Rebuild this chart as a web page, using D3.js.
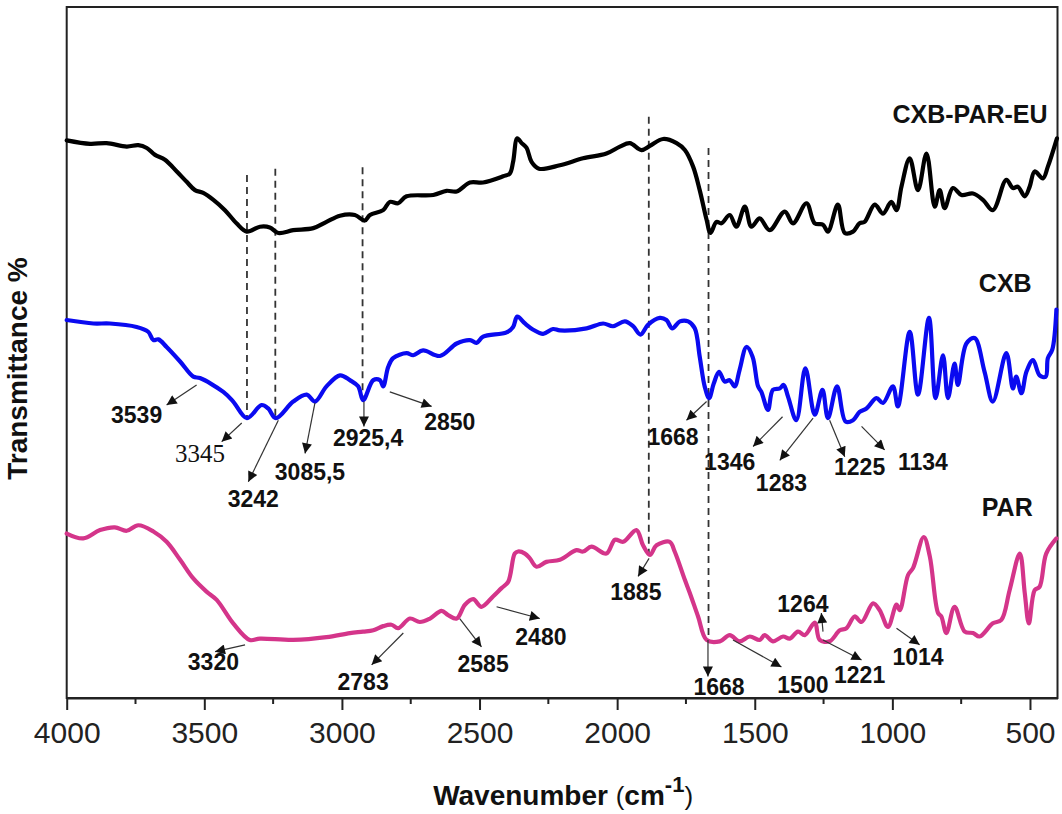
<!DOCTYPE html>
<html>
<head>
<meta charset="utf-8">
<script src="https://cdn.jsdelivr.net/npm/d3@7"></script>
<style>
  html, body { margin: 0; padding: 0; background: #fff; }
  svg { display: block; font-family: "Liberation Sans", Arial, sans-serif; }
</style>
</head>
<body>
<svg id="chart" width="1062" height="814"></svg>
<script>
// FTIR spectra: [wavenumber cm-1, transmittance (arbitrary %, stacked)]
const cxbParEu = [[4000,80.7],[3915,80.2],[3855,80.3],[3782,79.8],[3740,80.0],[3709,79.6],[3679,78.6],[3643,77.9],[3600,76.2],[3564,74.7],[3534,73.5],[3504,73.1],[3467,72.1],[3425,70.6],[3383,68.7],[3346,67.5],[3298,68.2],[3262,68.1],[3231,67.3],[3177,67.7],[3104,68.0],[3056,68.9],[3007,69.8],[2953,69.9],[2917,69.1],[2898,69.9],[2850,70.6],[2826,71.8],[2796,71.6],[2765,72.6],[2668,72.8],[2620,73.4],[2583,73.3],[2535,74.6],[2487,74.6],[2414,75.5],[2390,75.9],[2378,77.6],[2363,81.0],[2347,80.3],[2329,79.6],[2311,77.6],[2284,76.6],[2208,77.1],[2124,78.1],[2039,78.8],[1990,79.8],[1954,80.3],[1912,79.3],[1881,79.9],[1833,80.9],[1784,80.3],[1754,79.3],[1724,76.9],[1700,73.5],[1675,69.2],[1661,67.3],[1639,68.9],[1621,68.7],[1591,69.9],[1567,68.2],[1536,71.1],[1512,68.2],[1482,69.4],[1446,67.7],[1391,70.4],[1361,68.7],[1312,71.6],[1282,68.7],[1252,68.5],[1234,67.5],[1198,71.4],[1173,67.3],[1143,67.5],[1119,68.7],[1101,68.9],[1064,71.4],[1034,70.1],[1004,71.8],[985,70.6],[967,74.0],[937,78.1],[907,73.5],[876,78.8],[846,71.1],[828,73.5],[810,70.9],[780,73.8],[749,72.8],[707,73.0],[671,72.1],[635,70.6],[586,75.0],[562,73.8],[544,74.0],[519,72.6],[501,74.0],[483,76.2],[453,75.2],[435,76.9],[402,81.0]];

const cxb = [[4000,54.7],[3903,54.2],[3843,54.2],[3746,53.7],[3704,53.0],[3685,51.8],[3667,51.9],[3637,50.8],[3588,48.7],[3540,46.5],[3516,46.3],[3431,44.3],[3395,42.9],[3345,40.5],[3292,42.4],[3268,41.9],[3240,40.5],[3177,42.9],[3128,43.9],[3098,42.9],[3056,45.1],[3007,46.7],[2971,46.0],[2941,45.1],[2923,43.1],[2886,46.0],[2862,46.0],[2850,45.1],[2832,47.9],[2814,49.2],[2765,49.9],[2741,49.6],[2705,50.3],[2644,49.5],[2583,51.3],[2535,51.8],[2511,51.4],[2487,52.3],[2402,52.9],[2378,53.7],[2363,55.2],[2335,54.2],[2305,53.3],[2269,52.7],[2233,53.4],[2208,53.2],[2111,53.5],[2051,54.2],[2015,53.8],[1972,54.5],[1942,53.8],[1915,52.6],[1888,54.0],[1845,55.0],[1821,54.7],[1800,53.5],[1772,54.5],[1742,54.5],[1718,53.5],[1700,49.4],[1682,45.1],[1666,43.4],[1649,45.5],[1630,47.2],[1609,45.8],[1591,46.0],[1573,45.1],[1555,47.5],[1530,50.8],[1508,49.4],[1488,45.1],[1476,44.3],[1452,41.7],[1434,44.6],[1409,44.8],[1395,45.3],[1379,43.6],[1349,40.2],[1316,47.7],[1282,41.0],[1254,44.6],[1234,40.5],[1201,45.1],[1170,40.0],[1143,40.2],[1119,41.4],[1094,41.9],[1058,43.4],[1034,42.7],[998,45.1],[980,42.2],[937,53.0],[907,43.9],[867,55.0],[843,43.4],[816,49.6],[798,43.4],[774,48.4],[762,45.3],[731,51.3],[701,52.1],[665,47.2],[635,42.9],[586,49.9],[562,44.8],[550,46.5],[531,44.1],[513,47.2],[489,48.9],[465,46.7],[443,46.5],[435,49.2],[419,50.4],[404,56.2]];

const par = [[4000,23.8],[3940,23.1],[3879,24.3],[3825,24.7],[3782,24.2],[3740,25.0],[3685,24.1],[3637,22.6],[3588,20.0],[3540,17.3],[3492,15.4],[3455,14.2],[3395,10.8],[3335,8.4],[3298,8.6],[3177,8.4],[3056,8.8],[2971,9.4],[2923,9.6],[2886,9.8],[2850,10.4],[2820,10.6],[2796,10.1],[2753,11.5],[2717,11.0],[2680,11.5],[2638,12.6],[2614,12.0],[2583,11.5],[2553,13.5],[2523,14.3],[2493,13.2],[2451,14.7],[2420,15.9],[2396,16.8],[2372,20.9],[2360,21.2],[2335,20.9],[2317,20.2],[2293,19.0],[2257,19.7],[2208,20.0],[2148,21.4],[2124,21.2],[2093,21.9],[2039,20.9],[2008,22.9],[1978,22.6],[1930,24.3],[1906,22.1],[1881,20.7],[1857,22.1],[1809,22.6],[1791,21.2],[1754,17.1],[1736,15.2],[1706,11.8],[1675,8.4],[1627,8.2],[1591,9.1],[1555,8.2],[1518,8.9],[1482,8.4],[1464,9.1],[1434,8.2],[1397,8.9],[1373,8.6],[1343,9.6],[1318,9.1],[1282,10.9],[1264,8.4],[1228,8.2],[1191,9.8],[1167,10.1],[1137,11.8],[1112,11.0],[1070,13.7],[1046,12.7],[1016,10.3],[985,13.5],[973,12.7],[943,17.8],[925,18.8],[886,23.3],[864,20.5],[834,12.3],[822,11.8],[804,9.4],[774,13.2],[737,9.6],[707,9.4],[683,8.9],[635,10.8],[604,11.3],[574,15.6],[537,20.9],[519,15.2],[504,10.8],[483,15.6],[465,16.1],[441,20.9],[404,23.1]];

const series = [
  { name: 'CXB-PAR-EU', data: cxbParEu, color: '#000000', label: [436, 83.2] },
  { name: 'CXB', data: cxb, color: '#0a0af0', label: [494, 58.8] },
  { name: 'PAR', data: par, color: '#d4358a', label: [490, 26.3] }
];

const xTicks = [4000, 3500, 3000, 2500, 2000, 1500, 1000, 500];
const xMinorTicks = [3750, 3250, 2750, 2250, 1750, 1250, 750];

// dashed guide lines: [wavenumber, top, bottom]
const guides = [[3345, 75.7, 40.5], [3242, 76.6, 40.5], [2925, 76.8, 43.1], [1885, 84.1, 20.4], [1668, 79.6, 8.7]];

// peak labels: [text, label w, label t, arrow start w, t, arrow end w, t, serif?]
const peaks = [
  ['3539', 3746, 41.0, 3528, 45.3, 3637, 42.4],
  ['3345', 3516, 35.4, 3364, 39.8, 3437, 37.1, true],
  ['3242', 3322, 28.9, 3231, 40.2, 3340, 31.3],
  ['3085,5', 3116, 32.8, 3098, 42.7, 3134, 35.4],
  ['2925,4', 2905, 37.6, 2920, 42.9, 2920, 39.3],
  ['2850', 2608, 40.0, 2826, 44.3, 2674, 42.2],
  ['1668', 1797, 37.8, 1675, 42.9, 1748, 40.2],
  ['1346', 1591, 34.2, 1399, 40.7, 1506, 36.4],
  ['1283', 1403, 31.1, 1288, 40.5, 1409, 34.4],
  ['1225', 1119, 33.5, 1228, 40.2, 1173, 34.9],
  ['1134', 889, 34.2, 1112, 39.3, 1028, 35.9],
  ['3320', 3467, 5.3, 3352, 7.7, 3461, 6.7],
  ['2783', 2923, 2.4, 2777, 9.4, 2892, 4.8],
  ['2585', 2487, 5.0, 2572, 11.5, 2493, 7.4],
  ['2480', 2277, 8.8, 2438, 13.2, 2281, 11.5],
  ['1885', 1932, 15.4, 1884, 20.2, 1924, 17.6],
  ['1668', 1630, 1.6, 1670, 8.4, 1670, 3.1],
  ['1500', 1325, 1.9, 1579, 8.4, 1403, 4.5],
  ['1264', 1325, 13.7, 1252, 9.6, 1258, 12.3],
  ['1221', 1119, 3.3, 1252, 8.4, 1112, 5.5],
  ['1014', 907, 6.0, 985, 10.1, 901, 7.7]
];

const svg = d3.select('#chart');
const plotL = 66.7, plotR = 1057.5, plotT = 7, plotB = 698;

const x = d3.scaleLinear().domain([4000, 400]).range([plotL, plotR]);
const y = d3.scaleLinear().domain([0, 100]).range([plotB, plotT]);

svg.append('rect').attr('width', 1062).attr('height', 814).attr('fill', '#fff');

svg.append('defs').append('marker')
  .attr('id', 'arrow')
  .attr('viewBox', '0 0 10 10')
  .attr('refX', 10).attr('refY', 5)
  .attr('markerUnits', 'userSpaceOnUse')
  .attr('markerWidth', 15).attr('markerHeight', 10)
  .attr('orient', 'auto')
  .append('path')
  .attr('d', 'M0,0 L10,5 L0,10 z')
  .attr('fill', '#111');

// frame
svg.append('rect')
  .attr('x', plotL).attr('y', plotT)
  .attr('width', plotR - plotL).attr('height', plotB - plotT)
  .attr('fill', 'none').attr('stroke', '#222').attr('stroke-width', 2);

// bottom axis
const axis = svg.append('g')
  .attr('transform', `translate(0,${plotB})`)
  .call(d3.axisBottom(x).tickValues(xTicks).tickSize(12).tickSizeOuter(0).tickPadding(12).tickFormat(d3.format('d')));
axis.select('.domain').attr('stroke', '#222').attr('stroke-width', 2);
axis.selectAll('.tick line').attr('stroke', '#222').attr('stroke-width', 2);
axis.selectAll('.tick text').attr('font-size', 30).attr('fill', '#222')
  .attr('font-family', '"Liberation Sans", Arial, sans-serif');

svg.append('g').selectAll('line')
  .data(xMinorTicks).join('line')
  .attr('x1', d => x(d)).attr('x2', d => x(d))
  .attr('y1', plotB).attr('y2', plotB + 6)
  .attr('stroke', '#222').attr('stroke-width', 2);

// guides
svg.append('g').selectAll('line')
  .data(guides).join('line')
  .attr('x1', d => x(d[0])).attr('x2', d => x(d[0]))
  .attr('y1', d => y(d[1])).attr('y2', d => y(d[2]))
  .attr('stroke', '#333').attr('stroke-width', 1.8)
  .attr('stroke-dasharray', '7,5');

// spectra
const line = d3.line()
  .x(d => x(d[0])).y(d => y(d[1]))
  .curve(d3.curveCatmullRom.alpha(0.5));

svg.append('g').selectAll('path')
  .data(series).join('path')
  .attr('d', d => line(d.data))
  .attr('fill', 'none')
  .attr('stroke', d => d.color)
  .attr('stroke-width', 4.2)
  .attr('stroke-linejoin', 'round')
  .attr('stroke-linecap', 'round');

svg.append('g').selectAll('text')
  .data(series).join('text')
  .attr('x', d => x(d.label[0])).attr('y', d => y(d.label[1]))
  .attr('text-anchor', 'end')
  .attr('font-size', 25).attr('font-weight', 'bold').attr('fill', '#111')
  .text(d => d.name);

// peak arrows + labels
const ann = svg.append('g');
ann.selectAll('line')
  .data(peaks).join('line')
  .attr('x1', d => x(d[3])).attr('y1', d => y(d[4]))
  .attr('x2', d => x(d[5])).attr('y2', d => y(d[6]))
  .attr('stroke', '#333').attr('stroke-width', 1.2)
  .attr('marker-end', 'url(#arrow)');

ann.selectAll('text')
  .data(peaks).join('text')
  .attr('x', d => x(d[1])).attr('y', d => y(d[2]))
  .attr('dy', '0.36em')
  .attr('text-anchor', 'middle')
  .attr('font-family', d => d[7] ? '"Liberation Serif", "Times New Roman", serif' : '"Liberation Sans", Arial, sans-serif')
  .attr('font-weight', d => d[7] ? 'normal' : 'bold')
  .attr('font-size', d => d[7] ? 25 : 23)
  .attr('fill', '#111')
  .text(d => d[0]);

// axis titles
const xt = svg.append('text')
  .attr('x', (plotL + plotR) / 2 + 1).attr('y', 805)
  .attr('text-anchor', 'middle')
  .attr('fill', '#111');
xt.append('tspan').attr('font-size', 28).attr('font-weight', 'bold').text('Wavenumber ');
xt.append('tspan').attr('font-size', 26).text('(');
xt.append('tspan').attr('font-size', 28).attr('font-weight', 'bold').text('cm');
xt.append('tspan').attr('font-size', 22).attr('font-weight', 'bold').attr('dy', -13).text('-1');
xt.append('tspan').attr('font-size', 26).attr('dy', 13).text(')');

svg.append('text')
  .attr('transform', `translate(27,${(plotT + plotB) / 2 + 16}) rotate(-90)`)
  .attr('text-anchor', 'middle')
  .attr('font-size', 28).attr('font-weight', 'bold').attr('fill', '#111')
  .text('Transmittance %');
</script>
</body>
</html>
